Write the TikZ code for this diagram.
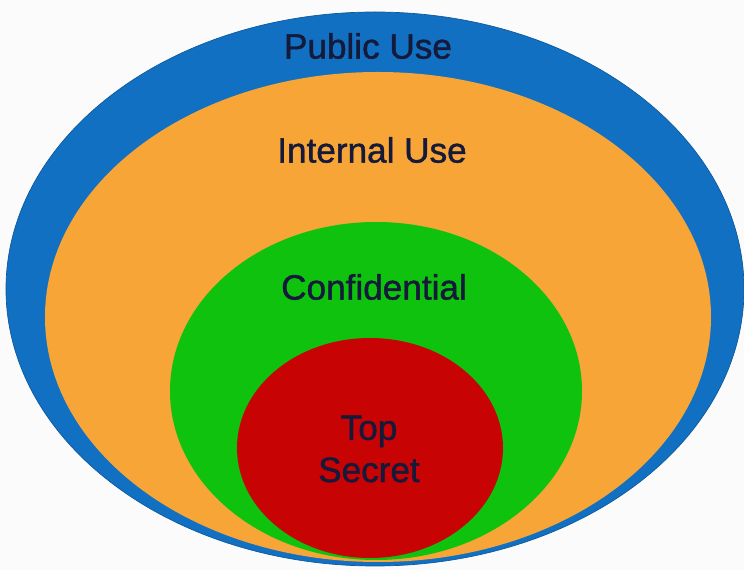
\documentclass[tikz,border=0pt]{standalone}
\usepackage{fontspec}
\setmainfont{Liberation Sans}
\newfontfamily\levelfont[FakeBold=1.2]{Liberation Sans}
\usepackage{xcolor}
\usepackage{tikz}
\usetikzlibrary{calc,positioning}

\definecolor{pubblue}{HTML}{1170C2}
\definecolor{intorange}{HTML}{F7A536}
\definecolor{confgreen}{HTML}{0EC20E}
\definecolor{secred}{HTML}{C70303}
\definecolor{labelink}{HTML}{15193A}

\tikzset{
  level/.style={font=\levelfont\fontsize{20}{24}\selectfont, text=labelink, align=center}
}

\begin{document}
\begin{tikzpicture}

\fill[white!98.5!black] (0,0) rectangle (14.88,11.4);
\useasboundingbox (0,0) rectangle (14.88,11.4);

  \filldraw[fill=pubblue, draw=pubblue!80!black, thin] (7.5,5.62) ellipse (7.38 and 5.54);
  \fill[intorange] (7.56,5.06) ellipse (6.66 and 4.9);
  \fill[confgreen] (7.52,3.58) ellipse (4.12 and 3.38);
  \fill[secred] (7.40,2.44) ellipse (2.66 and 2.2);

\node[level] (public) at (7.36,10.48) {Public Use};
\node[level] (internal) at (7.44,8.4) {Internal Use};
\node[level] (confidential) at (7.48,5.66) {Confidential};
\node[level] (topsecret) at (7.38,2.42) {Top\\Secret};

	\end{tikzpicture}
\end{document}
